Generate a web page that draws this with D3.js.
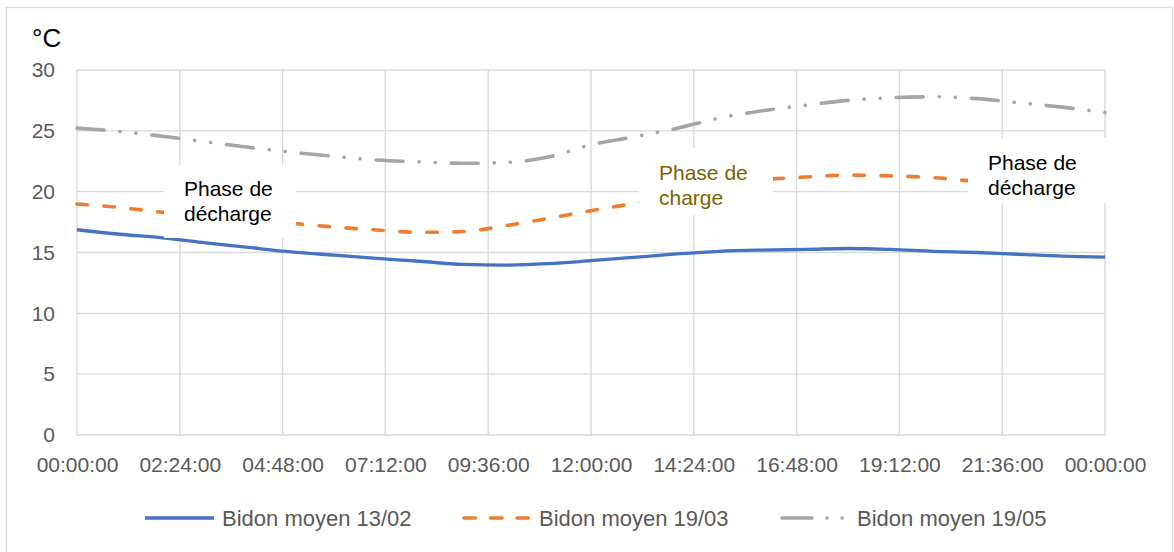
<!DOCTYPE html>
<html>
<head>
<meta charset="utf-8">
<title>Bidon moyen</title>
<style>
  body { margin: 0; background: #fff; }
  svg text { font-family: "Liberation Sans", Arial, sans-serif; }
</style>
</head>
<body>
<div id="chart"></div>
<script src="https://cdnjs.cloudflare.com/ajax/libs/d3/7.8.5/d3.min.js"></script>
<script>
// hours of the day (x values)
var hours = [0, 1, 2, 3, 4, 5, 6, 7, 8, 9, 10, 11, 12, 13, 14, 15, 16, 17, 18, 19, 20, 21, 22, 23, 24];

var bidon1302 = [16.87, 16.5, 16.2, 15.8, 15.42, 15.05, 14.78, 14.52, 14.28, 14.02, 13.96, 14.08, 14.33, 14.6, 14.88, 15.1, 15.2, 15.25, 15.33, 15.25, 15.1, 15.0, 14.85, 14.7, 14.62];
var bidon1903 = [18.99, 18.7, 18.3, 18.0, 17.7, 17.4, 17.1, 16.85, 16.66, 16.72, 17.2, 17.8, 18.44, 19.05, 19.9, 20.6, 20.98, 21.2, 21.36, 21.3, 21.15, 20.85, 20.7, 20.5, 20.3];
var bidon1905 = [25.22, 24.95, 24.55, 24.1, 23.65, 23.25, 22.9, 22.6, 22.45, 22.33, 22.4, 22.85, 23.85, 24.5, 25.2, 26.05, 26.65, 27.1, 27.5, 27.72, 27.8, 27.65, 27.3, 26.95, 26.5];

var seriesNames = ["Bidon moyen 13/02", "Bidon moyen 19/03", "Bidon moyen 19/05"];
var seriesColors = ["#4472C4", "#ED7D31", "#A5A5A5"];

var xTickHours = [0, 2.4, 4.8, 7.2, 9.6, 12, 14.4, 16.8, 19.2, 21.6, 24];
var xTickLabels = ["00:00:00", "02:24:00", "04:48:00", "07:12:00", "09:36:00", "12:00:00",
                   "14:24:00", "16:48:00", "19:12:00", "21:36:00", "00:00:00"];
var yTicks = [0, 5, 10, 15, 20, 25, 30];

var noteTexts = [["Phase de", "décharge"], ["Phase de", "charge"], ["Phase de", "décharge"]];
var noteColors = ["#000000", "#806000", "#000000"];

var W = 1174, H = 552;
var plotLeft = 77, plotRight = 1105, plotTop = 70, plotBottom = 435;

var svg = d3.select("#chart").append("svg").attr("width", W).attr("height", H);

// chart border
svg.append("rect")
    .attr("x", 6.5).attr("y", 7.5)
    .attr("width", 1166).attr("height", 560)
    .attr("fill", "none").attr("stroke", "#D9D9D9").attr("stroke-width", 1.3);

var x = d3.scaleLinear().domain([0, 24]).range([plotLeft, plotRight]);
var y = d3.scaleLinear().domain([0, 30]).range([plotBottom, plotTop]);

// gridlines
var grid = svg.append("g");
grid.selectAll(".hg").data(yTicks).enter().append("line")
    .attr("x1", plotLeft).attr("x2", plotRight)
    .attr("y1", function (d) { return y(d); })
    .attr("y2", function (d) { return y(d); })
    .attr("stroke", "#D9D9D9").attr("stroke-width", 1.4);
grid.selectAll(".vg").data(xTickHours).enter().append("line")
    .attr("y1", plotTop).attr("y2", plotBottom)
    .attr("x1", function (d) { return x(d); })
    .attr("x2", function (d) { return x(d); })
    .attr("stroke", "#D9D9D9").attr("stroke-width", 1.4);

// axes (labels only)
var yAxis = svg.append("g")
    .attr("transform", "translate(" + plotLeft + ",0)")
    .call(d3.axisLeft(y).tickValues(yTicks).tickSize(0).tickPadding(22));
yAxis.select(".domain").remove();
yAxis.selectAll("text")
    .attr("fill", "#595959")
    .style("font-size", "21px");

var xAxis = svg.append("g")
    .attr("transform", "translate(0," + plotBottom + ")")
    .call(d3.axisBottom(x).tickValues(xTickHours).tickSize(0).tickPadding(22)
        .tickFormat(function (d, i) { return xTickLabels[i]; }));
xAxis.select(".domain").remove();
xAxis.selectAll("text")
    .attr("fill", "#595959")
    .style("font-size", "21px");

svg.append("text")
    .attr("x", 32).attr("y", 47)
    .attr("fill", "#000")
    .style("font-size", "26px")
    .text("°C");

// series
var line = d3.line()
    .x(function (d, i) { return x(hours[i]); })
    .y(function (d) { return y(d); })
    .curve(d3.curveMonotoneX);

var dashes = [null, "10.5,16.5", "27,16,0.1,16,0.1,16"];
var widths = [3.3, 3.6, 3.6];
[bidon1302, bidon1903, bidon1905].forEach(function (s, i) {
    svg.append("path")
        .datum(s)
        .attr("d", line)
        .attr("fill", "none")
        .attr("stroke", seriesColors[i])
        .attr("stroke-width", widths[i])
        .attr("stroke-linecap", i === 0 ? "butt" : "round")
        .attr("stroke-linejoin", "round")
        .attr("stroke-dasharray", dashes[i]);
});

// text boxes
var noteBoxes = [
    {x: 164, y: 165, w: 132, h: 73, tx: 184, ty: 196},
    {x: 639, y: 148, w: 134, h: 67, tx: 659, ty: 180},
    {x: 968, y: 138, w: 141, h: 65, tx: 988, ty: 170}
];
noteBoxes.forEach(function (b, i) {
    svg.append("rect")
        .attr("x", b.x).attr("y", b.y).attr("width", b.w).attr("height", b.h)
        .attr("fill", "#fff");
    var t = svg.append("text")
        .attr("x", b.tx).attr("y", b.ty)
        .attr("fill", noteColors[i])
        .style("font-size", "21px");
    noteTexts[i].forEach(function (s, j) {
        t.append("tspan").attr("x", b.tx).attr("dy", j === 0 ? 0 : 25).text(s);
    });
});

// legend
var legendX = [145, 462, 780];
var legendY = 518;
var leg = svg.append("g");
seriesNames.forEach(function (name, i) {
    leg.append("line")
        .attr("x1", legendX[i] + (i === 0 ? 0 : 2)).attr("x2", legendX[i] + 69)
        .attr("y1", legendY).attr("y2", legendY)
        .attr("stroke", seriesColors[i])
        .attr("stroke-width", widths[i])
        .attr("stroke-linecap", i === 0 ? "butt" : "round")
        .attr("stroke-dasharray", i === 0 ? null : (i === 1 ? "11.5,15" : "30,15,0.1,15,0.1,40"));
    leg.append("text")
        .attr("x", legendX[i] + 77).attr("y", legendY + 8)
        .attr("fill", "#595959")
        .style("font-size", "22px")
        .text(name);
});
</script>
</body>
</html>
